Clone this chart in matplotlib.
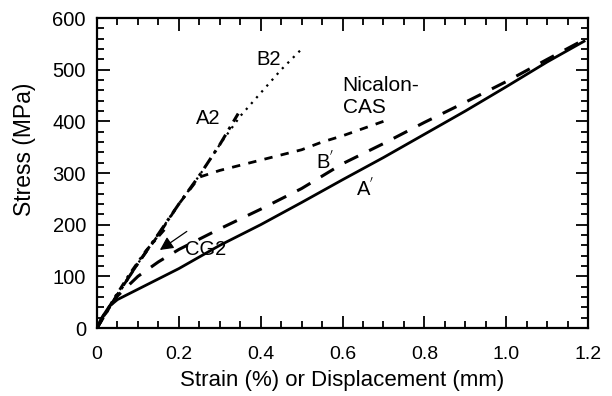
import matplotlib
matplotlib.use("Agg")
import matplotlib.pyplot as plt
from matplotlib.ticker import MultipleLocator

plt.rcParams['font.family'] = ['Liberation Sans', 'DejaVu Sans']

# A' (solid)
a_prime_x = [0, 0.01, 0.03, 0.05, 0.1, 0.2, 0.3, 0.4, 0.5, 0.6, 0.7, 0.8, 0.9, 1.0, 1.1, 1.19]
a_prime_y = [0, 18, 42, 55, 75, 115, 160, 200, 243, 287, 330, 375, 420, 467, 515, 555]
# B' (long dash)
b_prime_x = [0, 0.02, 0.05, 0.1, 0.15, 0.2, 0.3, 0.4, 0.5, 0.6, 0.7, 0.8, 0.9, 1.0, 1.1, 1.19]
b_prime_y = [0, 30, 62, 100, 128, 152, 192, 230, 270, 318, 357, 398, 437, 477, 520, 558]
# Nicalon-CAS (short dash)
nic_x = [0, 0.05, 0.1, 0.15, 0.2, 0.25, 0.3, 0.4, 0.5, 0.55, 0.6, 0.7]
nic_y = [0, 65, 125, 180, 240, 292, 305, 325, 345, 360, 372, 400]
# A2 (dash-dot)
a2_x = [0, 0.05, 0.1, 0.15, 0.2, 0.25, 0.3, 0.345]
a2_y = [0, 65, 125, 182, 240, 295, 355, 415]
# B2 (dotted)
b2_x = [0, 0.05, 0.1, 0.15, 0.2, 0.25, 0.3, 0.35, 0.4, 0.45, 0.5]
b2_y = [0, 65, 125, 182, 240, 295, 355, 410, 455, 500, 540]
# CG2 (dash-dot)
cg2_x = [0, 0.04, 0.08, 0.12, 0.17]
cg2_y = [0, 55, 105, 150, 195]

x_ticks = [0, 0.2, 0.4, 0.6, 0.8, 1.0, 1.2]
x_tick_labels = ['0', '0.2', '0.4', '0.6', '0.8', '1.0', '1.2']
y_ticks = [0, 100, 200, 300, 400, 500, 600]

fig = plt.figure(figsize=(6.12, 3.96), dpi=100)
ax = fig.add_axes([0.1585, 0.1717, 0.8025, 0.7828])

ax.plot(a_prime_x, a_prime_y, color='black', lw=2.0, ls='-')
ax.plot(b_prime_x, b_prime_y, color='black', lw=2.2, ls=(0, (5, 4)))
ax.plot(nic_x, nic_y, color='black', lw=2.0, ls=(0, (3, 3)))
ax.plot(b2_x, b2_y, color='black', lw=1.6, ls=(0, (1, 2.5)))
ax.plot(a2_x, a2_y, color='black', lw=2.2, ls=(0, (4, 2, 1, 2)))
ax.plot(cg2_x, cg2_y, color='black', lw=2.0, ls=(0, (3, 2, 1, 2)))

ax.set_xlim(0, 1.2)
ax.set_ylim(0, 600)
ax.set_xticks(x_ticks, x_tick_labels)
ax.set_yticks(y_ticks)
ax.xaxis.set_minor_locator(MultipleLocator(0.05))
ax.yaxis.set_minor_locator(MultipleLocator(20))
ax.tick_params(which='both', direction='in', top=True, right=True, width=1.3)
ax.tick_params(axis='x', which='major', labelsize=14, pad=13)
ax.tick_params(axis='y', which='major', labelsize=14.5, pad=8)
ax.tick_params(which='major', length=9)
ax.tick_params(which='minor', length=5)
for s in ax.spines.values():
    s.set_linewidth(1.6)

ax.set_xlabel('Strain (%) or Displacement (mm)', fontsize=16, labelpad=5)
ax.set_ylabel('Stress (MPa)', fontsize=16.5, labelpad=12, y=0.575)

fs = 14.5
ax.text(0.42, 520, 'B2', fontsize=fs, ha='center', va='center')
ax.text(0.272, 405, 'A2', fontsize=fs, ha='center', va='center')
ax.text(0.60, 448, 'Nicalon-\nCAS', fontsize=15, ha='left', va='center', linespacing=1.2)
ax.text(0.557, 322, "B$^{'}$", fontsize=fs, ha='center', va='center')
ax.text(0.655, 270, "A$^{'}$", fontsize=fs, ha='center', va='center')
ax.text(0.265, 152, 'CG2', fontsize=fs, ha='center', va='center')
ax.annotate('', xy=(0.148, 148), xytext=(0.225, 190),
            arrowprops=dict(arrowstyle='-|>', color='black', lw=0.9, mutation_scale=20))

fig.savefig('out.png', dpi=100)
